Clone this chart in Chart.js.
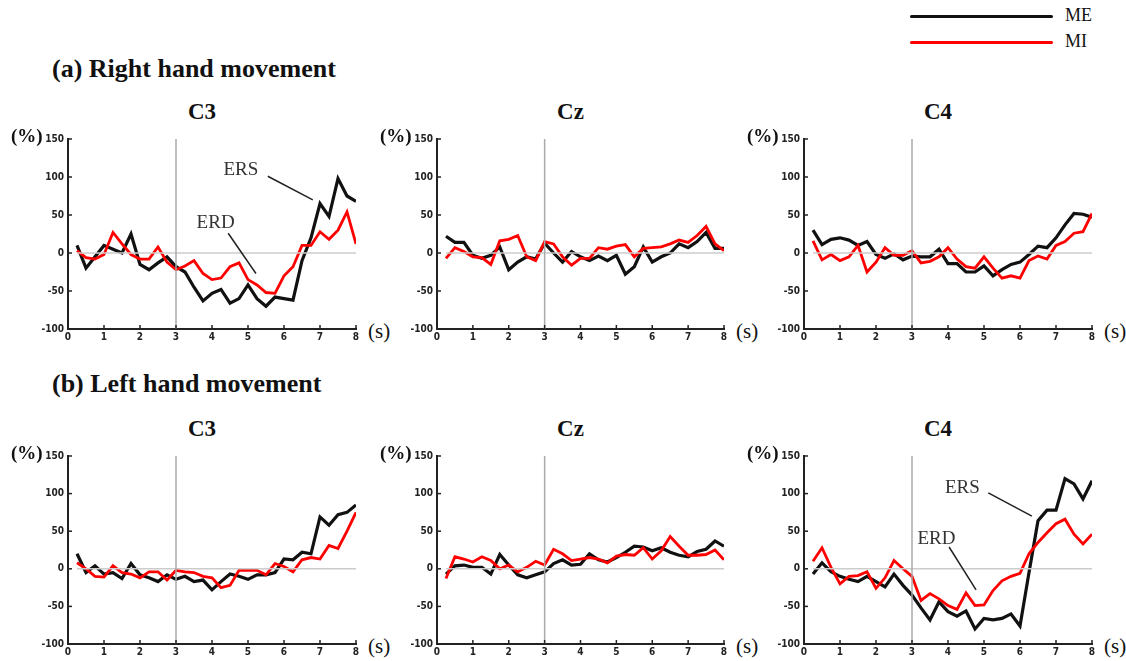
<!DOCTYPE html>
<html>
<head>
<meta charset="utf-8">
<script src="https://cdn.jsdelivr.net/npm/chart.js@4.4.0/dist/chart.umd.min.js"></script>
<style>
  body { margin: 0; background: #fff; width: 1126px; height: 661px; position: relative; overflow: hidden; }
  .txt { position: absolute; font-family: "Liberation Serif", serif; color: #111; white-space: nowrap; }
  .sec { font-size: 26px; font-weight: bold; }
  .ttl { font-size: 23px; font-weight: bold; transform: translateX(-50%); }
  .unit { font-size: 19px; font-weight: bold; }
  .sec2 { font-size: 21px; color: #111; }
  .leg { position: absolute; height: 3px; border-radius: 2px; }
  canvas { position: absolute; }
</style>
</head>
<body>
<div class="txt sec" style="left:52px;top:54px;">(a) Right hand movement</div>
<div class="txt sec" style="left:52px;top:369px;">(b) Left hand movement</div>

<div class="leg" style="left:910px;top:15px;width:143px;background:#111;"></div>
<div class="leg" style="left:910px;top:41px;width:143px;background:#f00;"></div>
<div class="txt" style="left:1065px;top:5px;font-size:18px;">ME</div>
<div class="txt" style="left:1065px;top:31px;font-size:18px;">MI</div>

<script>
// time axis (s)
const times = [0.25,0.5,0.75,1,1.25,1.5,1.75,2,2.25,2.5,2.75,3,3.25,3.5,3.75,4,
               4.25,4.5,4.75,5,5.25,5.5,5.75,6,6.25,6.5,6.75,7,7.25,7.5,7.75,8];
const yTicks = [-100, -50, 0, 50, 100, 150];
const xTicks = [0, 1, 2, 3, 4, 5, 6, 7, 8];
const channels = ["C3", "Cz", "C4"];

// (a) right hand
const rightC3_ME = [10,-20,-5,10,5,0,25,-15,-22,-13,-5,-18,-25,-45,-63,-53,-48,-66,-60,-42,-60,-70,-58,-60,-62,-10,20,65,48,98,75,68];
const rightC3_MI = [3,-6,-8,-2,27,12,-2,-8,-8,8,-12,-22,-17,-10,-27,-35,-33,-18,-13,-35,-42,-52,-53,-30,-18,10,10,28,18,30,54,12];
const rightCz_ME = [22,14,14,-3,-7,-3,8,-22,-12,-5,-8,13,0,-12,2,-5,-10,-4,-10,-3,-28,-18,8,-12,-5,0,12,7,15,27,6,6];
const rightCz_MI = [-7,7,2,-5,-6,-15,16,18,23,-5,-10,15,12,-5,-16,-7,-7,7,5,9,11,-5,6,7,8,12,17,14,23,35,12,3];
const rightC4_ME = [30,11,18,20,17,10,15,-2,-7,-1,-9,-4,-5,-5,5,-14,-14,-25,-25,-17,-30,-22,-15,-12,-2,9,7,20,37,52,51,47];
const rightC4_MI = [16,-9,-2,-10,-5,10,-25,-12,7,-3,-3,3,-13,-11,-5,7,-8,-18,-20,-5,-20,-33,-30,-33,-10,-4,-8,10,15,26,28,52];

// (b) left hand
const leftC3_ME = [20,-5,4,-7,-5,-13,7,-8,-12,-17,-8,-14,-10,-17,-15,-28,-17,-7,-10,-14,-8,-8,-5,13,12,22,20,69,58,72,75,85];
const leftC3_MI = [8,0,-10,-11,4,-5,-7,-12,-4,-4,-15,-2,-4,-5,-10,-12,-25,-22,-2,-2,-2,-8,7,3,-4,12,15,13,31,27,50,75];
const leftCz_ME = [-7,4,5,2,2,-7,19,5,-8,-12,-8,-4,7,12,5,6,20,12,9,15,22,30,29,24,28,22,18,16,23,26,37,30];
const leftCz_MI = [-13,16,13,9,16,11,0,5,-4,2,10,5,26,20,11,13,15,13,8,17,19,18,28,13,24,43,30,18,18,19,25,12];
const leftC4_ME = [-7,8,-4,-10,-14,-17,-10,-17,-24,-7,-22,-35,-52,-68,-44,-57,-63,-56,-80,-66,-68,-66,-60,-76,-5,64,78,78,120,113,93,117];
const leftC4_MI = [10,28,2,-20,-10,-9,-4,-26,-12,11,0,-10,-42,-33,-40,-49,-54,-32,-49,-48,-29,-16,-10,-6,20,35,48,60,66,46,33,46];

// annotations: label at (x,y), leader from (x1,y1) to (x2,y2), data coords
const rightC3_notes = [
  { text: "ERS", x: 4.8, y: 109, x1: 5.55, y1: 101, x2: 6.8, y2: 70 },
  { text: "ERD", x: 4.1, y: 39, x1: 4.45, y1: 26, x2: 5.22, y2: -27 }
];
const leftC4_notes = [
  { text: "ERS", x: 4.4, y: 107, x1: 5.12, y1: 101, x2: 6.33, y2: 70 },
  { text: "ERD", x: 3.68, y: 39, x1: 4.03, y1: 29, x2: 4.78, y2: -28 }
];

const panels = [
  { me: rightC3_ME, mi: rightC3_MI, notes: rightC3_notes, left: 68, top: 137, w: 288, h: 192 },
  { me: rightCz_ME, mi: rightCz_MI, notes: [], left: 437, top: 137, w: 287, h: 192 },
  { me: rightC4_ME, mi: rightC4_MI, notes: [], left: 804, top: 137, w: 288, h: 192 },
  { me: leftC3_ME, mi: leftC3_MI, notes: [], left: 68, top: 454, w: 288, h: 190 },
  { me: leftCz_ME, mi: leftCz_MI, notes: [], left: 437, top: 454, w: 287, h: 190 },
  { me: leftC4_ME, mi: leftC4_MI, notes: leftC4_notes, left: 804, top: 454, w: 288, h: 190 }
];

const AXW = 40, PADT = 8, PADR = 8, AXH = 16;

// inward tick marks + annotations
const extras = {
  id: 'extras',
  afterDraw(chart) {
    const ctx = chart.ctx;
    const xs = chart.scales.x, ys = chart.scales.y;
    const a = chart.chartArea;
    ctx.save();
    ctx.strokeStyle = '#222';
    ctx.lineWidth = 1.5;
    yTicks.forEach(v => {
      const py = ys.getPixelForValue(v);
      ctx.beginPath(); ctx.moveTo(a.left, py); ctx.lineTo(a.left + 4, py); ctx.stroke();
    });
    xTicks.forEach(v => {
      const px = xs.getPixelForValue(v);
      ctx.beginPath(); ctx.moveTo(px, a.bottom); ctx.lineTo(px, a.bottom - 4); ctx.stroke();
    });
    const notes = chart.options.plugins.extras.notes;
    ctx.font = '19px "Liberation Serif", serif';
    ctx.fillStyle = '#333';
    ctx.textAlign = 'center';
    ctx.textBaseline = 'middle';
    notes.forEach(n => {
      ctx.fillText(n.text, xs.getPixelForValue(n.x), ys.getPixelForValue(n.y));
      ctx.strokeStyle = '#222';
      ctx.lineWidth = 1.5;
      ctx.beginPath();
      ctx.moveTo(xs.getPixelForValue(n.x1), ys.getPixelForValue(n.y1));
      ctx.lineTo(xs.getPixelForValue(n.x2), ys.getPixelForValue(n.y2));
      ctx.stroke();
    });
    ctx.restore();
  }
};

function addText(cls, html, left, top) {
  const d = document.createElement('div');
  d.className = 'txt ' + cls;
  d.innerHTML = html;
  d.style.left = left + 'px';
  d.style.top = top + 'px';
  document.body.appendChild(d);
}

panels.forEach((p, i) => {
  const canvas = document.createElement('canvas');
  const cw = AXW + p.w + PADR, chh = PADT + p.h + AXH;
  canvas.width = cw; canvas.height = chh;
  canvas.style.left = (p.left - AXW) + 'px';
  canvas.style.top = (p.top - PADT) + 'px';
  canvas.style.width = cw + 'px';
  canvas.style.height = chh + 'px';
  document.body.appendChild(canvas);

  // channel title, (%) and (s) labels
  addText('ttl', channels[i % 3], p.left + p.w / 2 - 10, p.top - 38);
  addText('unit', '(%)', p.left - 57, p.top - 12);
  addText('sec2', '(s)', p.left + p.w + 12, p.top + p.h - 10);

  new Chart(canvas.getContext('2d'), {
    type: 'line',
    data: {
      datasets: [
        { data: [{ x: 3, y: -100 }, { x: 3, y: 150 }], borderColor: '#aaa', borderWidth: 1.5, pointRadius: 0 },
        { data: [{ x: 0.25, y: 0 }, { x: 8, y: 0 }], borderColor: '#ccc', borderWidth: 1.5, pointRadius: 0 },
        { label: 'MI', data: times.map((t, k) => ({ x: t, y: p.mi[k] })), borderColor: '#ff0000', borderWidth: 2.8, pointRadius: 0, tension: 0 },
        { label: 'ME', data: times.map((t, k) => ({ x: t, y: p.me[k] })), borderColor: '#111', borderWidth: 3.2, pointRadius: 0, tension: 0 }
      ]
    },
    options: {
      responsive: false,
      animation: false,
      layout: { padding: { top: PADT, right: PADR, left: 0, bottom: 0 } },
      plugins: { legend: { display: false }, tooltip: { enabled: false }, extras: { notes: p.notes } },
      scales: {
        x: {
          type: 'linear', min: 0, max: 8,
          afterFit: s => { s.height = AXH; },
          afterBuildTicks: s => { s.ticks = xTicks.map(v => ({ value: v })); },
          grid: { display: false, drawTicks: false },
          border: { display: true, color: '#222', width: 2 },
          ticks: { padding: 2, color: '#222', font: { family: 'DejaVu Sans Condensed', weight: 'bold', size: 10 } }
        },
        y: {
          min: -100, max: 150,
          afterFit: s => { s.width = AXW; },
          afterBuildTicks: s => { s.ticks = yTicks.map(v => ({ value: v })); },
          grid: { display: false, drawTicks: false },
          border: { display: true, color: '#222', width: 2 },
          ticks: { padding: 4, color: '#222', font: { family: 'DejaVu Sans Condensed', weight: 'bold', size: 10 } }
        }
      }
    },
    plugins: [extras]
  });
});
</script>
</body>
</html>
